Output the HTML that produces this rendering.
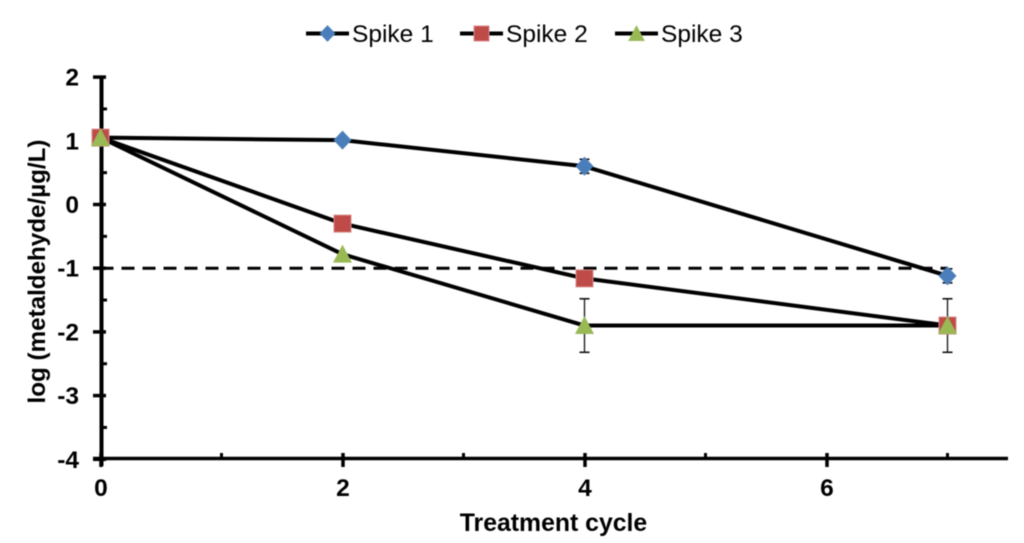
<!DOCTYPE html>
<html>
<head>
<meta charset="utf-8">
<style>
html,body{margin:0;padding:0;background:#fff;width:1024px;height:543px;overflow:hidden}
svg{display:block;filter:blur(.5px)}
text{font-family:"Liberation Sans",sans-serif;fill:#000}
.tick{font-weight:bold;font-size:24.5px}
.title{font-weight:bold;font-size:24.8px}
.ytitle{font-weight:bold;font-size:24.2px}
.leg{font-size:24.5px}
</style>
</head>
<body>
<svg id="chart" xmlns="http://www.w3.org/2000/svg" width="1024" height="543" viewBox="0 0 1024 543"></svg>
<script>
const cycles = [0, 2, 4, 7];
const seriesNames = ['Spike 1', 'Spike 2', 'Spike 3'];
const spike1 = [1.05, 1.01, 0.6, -1.12];
const spike2 = [1.05, -0.3, -1.16, -1.9];
const spike3 = [1.05, -0.78, -1.9, -1.9];
const spike1Err = [0, 0.05, 0.11, 0.11];
const spike2Err = [0, 0, 0, 0.42];
const spike3Err = [0, 0, 0.42, 0];
const xTickLabels = [0, 2, 4, 6];
const xMinorTicks = [1, 3, 5, 7];
const yTickLabels = [2, 1, 0, -1, -2, -3, -4];
const yMinorTicks = [1.5, 0.5, -0.5, -1.5, -2.5, -3.5];
const limitValue = -1;

const svg = document.getElementById('chart');
const NS = 'http://www.w3.org/2000/svg';
const X = v => 100.5 + v * 121;
const Y = v => 204.5 - v * 63.7;
function add(tag, attrs, parent) {
  const el = document.createElementNS(NS, tag);
  for (const k in attrs) el.setAttribute(k, attrs[k]);
  (parent || svg).appendChild(el);
  return el;
}
function line(x1, y1, x2, y2, w, extra, parent) {
  return add('line', Object.assign({x1, y1, x2, y2, stroke: '#000', 'stroke-width': w}, extra || {}), parent);
}
function marker(kind, x, y, parent, scale) {
  const k = scale || 1;
  let el;
  if (kind === 0) {
    el = add('polygon', {points: `${x},${y-9.5*k} ${x+9*k},${y} ${x},${y+9.5*k} ${x-9*k},${y}`, fill: '#4a7ebb'}, parent);
  } else if (kind === 1) {
    el = add('rect', {x: x-8.5*k, y: y-8.5*k, width: 17*k, height: 17*k, fill: '#be4b48', stroke: '#d98b89', 'stroke-width': 1}, parent);
  } else {
    el = add('polygon', {points: `${x},${y-9.5*k} ${x+9.5*k},${y+8.5*k} ${x-9.5*k},${y+8.5*k}`, fill: '#98b954'}, parent);
  }
  
  
  return el;
}

/* reference limit line */
const limit = line(X(0), Y(limitValue), X(7), Y(limitValue), 3, {'stroke-dasharray': '13 8'});



/* axes */
const yAxis = line(101.5, 77, 101.5, 466, 4);


const xAxis = line(93, 458.5, 1008, 458.5, 3.5);



yTickLabels.forEach(v => {
  const t = line(93, Y(v), 106, Y(v), 3.5);
  
  
  const lab = add('text', {x: 79, y: Y(v) + 8.5, 'text-anchor': 'end', class: 'tick'});
  lab.textContent = v;
  
  
});
yMinorTicks.forEach(v => {
  const t = line(101, Y(v), 107, Y(v), 3);
  
  
});
xTickLabels.forEach(v => {
  const t = line(X(v) + 0.5, 453, X(v) + 0.5, 467, 3.5);
  
  
  const lab = add('text', {x: X(v) + 0.5, y: 496, 'text-anchor': 'middle', class: 'tick'});
  lab.textContent = v;
  
  
});
xMinorTicks.forEach(v => {
  const t = line(X(v), 453, X(v), 458, 3);
  
  
});

/* titles */
const xTitle = add('text', {x: 553.5, y: 531, 'text-anchor': 'middle', class: 'title'});
xTitle.textContent = 'Treatment cycle';


const yTitle = add('text', {x: 0, y: 0, 'text-anchor': 'middle', class: 'ytitle', transform: 'translate(45 271.5) rotate(-90)'});
yTitle.textContent = 'log (metaldehyde/µg/L)';



/* series */
const allSeries = [spike1, spike2, spike3];
const allErrors = [spike1Err, spike2Err, spike3Err];
allSeries.forEach((vals, s) => {
  const pl = add('polyline', {
    points: vals.map((v, i) => X(cycles[i]) + ',' + Y(v)).join(' '),
    fill: 'none', stroke: '#000', 'stroke-width': 4, 'stroke-linejoin': 'round'
  });
  
  
});
allSeries.forEach((vals, s) => {
  allErrors[s].forEach((e, i) => {
    if (!e) return;
    const x = X(cycles[i]);
    const top = Y(vals[i] + e), bot = Y(vals[i] - e);
    const g = add('g', {});
    
    
    line(x, top, x, bot, 1.3, {stroke: '#111'}, g);
    line(x - 5, top, x + 5, top, 1.6, {stroke: '#111'}, g);
    line(x - 5, bot, x + 5, bot, 1.6, {stroke: '#111'}, g);
  });
});
allSeries.forEach((vals, s) => {
  vals.forEach((v, i) => marker(s, X(cycles[i]), Y(v)));
});

/* legend */
const legendLineStart = [306, 460, 615];
seriesNames.forEach((name, s) => {
  const g = add('g', {});
  
  
  const x0 = legendLineStart[s];
  line(x0, 33.5, x0 + 43, 33.5, 4, {}, g);
  marker(s, x0 + 21.5, 33.5, g, 0.88);
  const t = add('text', {x: x0 + 46, y: 42, class: 'leg'}, g);
  t.textContent = name;
});
</script>
</body>
</html>
